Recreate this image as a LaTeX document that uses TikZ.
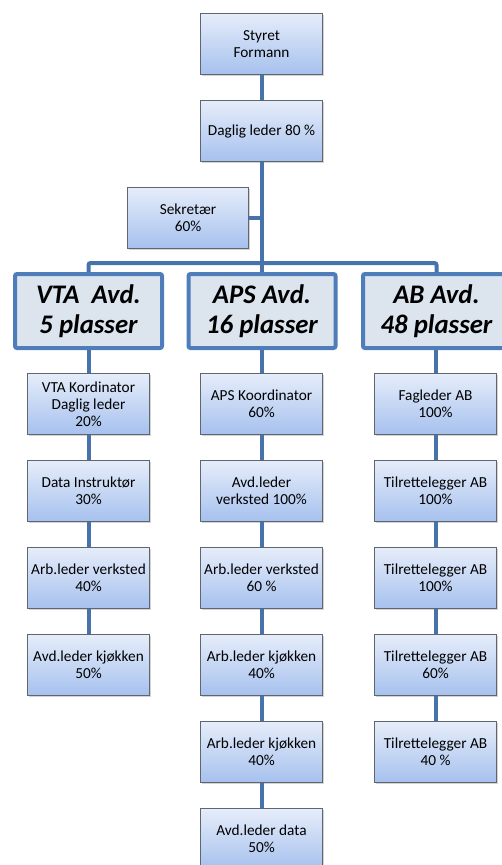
\documentclass[tikz,border=0pt]{standalone}
\usepackage{fontspec}
\setmainfont{Carlito}
\usetikzlibrary{positioning,shadows}
\definecolor{orgline}{RGB}{70,115,170}
\definecolor{orgtop}{RGB}{230,237,250}
\definecolor{orgbottom}{RGB}{166,193,238}
\definecolor{deptfill}{RGB}{220,228,238}
\definecolor{deptedge}{RGB}{79,125,185}
\definecolor{boxedge}{RGB}{95,102,112}

\begin{document}
\begin{tikzpicture}[
        x=1pt, y=-1pt,
        node distance=25pt,
        every node/.style={font=\fontsize{15.3}{17}\selectfont, align=center},
        unit/.style={rectangle, draw=boxedge, line width=0.8pt, top color=orgtop, bottom color=orgbottom, minimum width=122pt, minimum height=61pt, inner sep=1pt, drop shadow={shadow xshift=1.5pt, shadow yshift=-1.5pt, opacity=0.35}},
        dept/.style={rectangle, rounded corners=2pt, draw=deptedge, line width=4pt, fill=deptfill, minimum width=147pt, minimum height=74pt, inner sep=1pt, font=\fontsize{26.8}{30}\selectfont\bfseries\itshape},
        link/.style={orgline, line width=4pt}
    ]
        \clip (0,0) rectangle (502,865);

        \node[unit] (styret) at (261.5,44) {Styret\\Formann};
        \node[unit] (daglig) at (261.5,131) {Daglig leder 80 \%};
        \node[unit, minimum width=121pt] (sekretaer) at (188,217.5) {Sekretær\\60\%};

        \node[dept] (vta) at (88.5,311) {VTA\ \ Avd.\\5 plasser};
        \node[dept] (aps) at (262,311) {APS Avd.\\16 plasser};
        \node[dept] (ab) at (436.5,311) {AB Avd.\\48 plasser};

        % VTA
        \node[unit, below=23pt of vta] (vta1) {VTA Kordinator\\Daglig leder\\20\%};
        \node[unit, below of=vta1, node distance=87pt] (vta2) {Data Instruktør\\30\%};
        \node[unit, below of=vta2, node distance=87pt] (vta3) {Arb.leder verksted\\40\%};
        \node[unit, below of=vta3, node distance=87pt] (vta4) {Avd.leder kjøkken\\50\%};

        % APS
        \node[unit] (aps1) at (261.5,404) {APS Koordinator\\60\%};
        \node[unit, below of=aps1, node distance=87pt] (aps2) {Avd.leder\\verksted 100\%};
        \node[unit, below of=aps2, node distance=87pt] (aps3) {Arb.leder verksted\\60 \%};
        \node[unit, below of=aps3, node distance=87pt] (aps4) {Arb.leder kjøkken\\40\%};
        \node[unit, below of=aps4, node distance=87pt] (aps5) {Arb.leder kjøkken\\40\%};
        \node[unit, below of=aps5, node distance=87pt] (aps6) {Avd.leder data\\50\%};

        % AB
        \node[unit] (ab1) at (435.5,404) {Fagleder AB\\100\%};
        \node[unit, below of=ab1, node distance=87pt] (ab2) {Tilrettelegger AB\\100\%};
        \node[unit, below of=ab2, node distance=87pt] (ab3) {Tilrettelegger AB\\100\%};
        \node[unit, below of=ab3, node distance=87pt] (ab4) {Tilrettelegger AB\\60\%};
        \node[unit, below of=ab4, node distance=87pt] (ab5) {Tilrettelegger AB\\40 \%};

        \coordinate (bar) at (261.5,263);

        \draw[link] (styret) -- (daglig);
        \draw[link] (daglig.south) -- (bar);
        \draw[link] (sekretaer.east) -- (sekretaer.east -| bar);
        \draw[link, rounded corners=2pt] (vta.north) |- (bar) -| (ab.north);
        \draw[link] (bar) -- (bar |- aps.north);

        \draw[link] (vta.south) -- (vta1.north);
        \draw[link] (vta1) -- (vta2);
        \draw[link] (vta2) -- (vta3);
        \draw[link] (vta3) -- (vta4);

        \draw[link] (aps1.north) -- (aps1.north |- aps.south);
        \draw[link] (aps1) -- (aps2);
        \draw[link] (aps2) -- (aps3);
        \draw[link] (aps3) -- (aps4);
        \draw[link] (aps4) -- (aps5);
        \draw[link] (aps5) -- (aps6);

        \draw[link] (ab1.north) -- (ab1.north |- ab.south);
        \draw[link] (ab1) -- (ab2);
        \draw[link] (ab2) -- (ab3);
        \draw[link] (ab3) -- (ab4);
        \draw[link] (ab4) -- (ab5);
    \end{tikzpicture}
\end{document}
